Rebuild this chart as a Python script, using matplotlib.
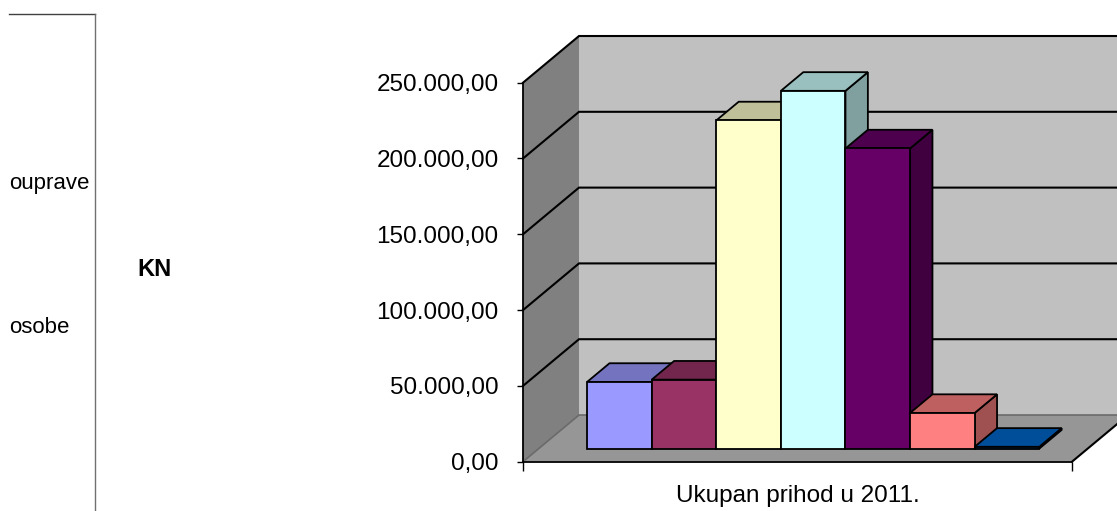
import matplotlib
matplotlib.use("Agg")
import matplotlib.pyplot as plt
from matplotlib.patches import Polygon
from matplotlib.lines import Line2D
from matplotlib.ticker import FuncFormatter, FixedLocator
from matplotlib.colors import to_rgb

# ============================================================================
# PODACI
# ============================================================================

kategorija = 'Ukupan prihod u 2011.'
vrijednosti = [44000, 45500, 216500, 236000, 198000, 23500, 1200]
boje = ['#9999FF', '#993366', '#FFFFCC', '#CCFFFF', '#660066', '#FF8080', '#0066CC']
y_ticks = [0, 50000, 100000, 150000, 200000, 250000]

# ============================================================================
# POSTAVKE 3D IZGLEDA (kosa projekcija)
# ============================================================================

W_PX, H_PX = 1117, 511
Y_MAX = 250000
DX = 0.102          # dubina zida u x jedinicama
DY = 30800          # dubina zida u y jedinicama
F_PRED = 0.28       # udio dubine do prednje strane stupaca
G_DUB = 0.40        # dubina stupca kao udio ukupne dubine
GAP = 1.5           # razmak (150 %)

plt.rcParams['font.family'] = ['Liberation Sans', 'DejaVu Sans']


def potamni(boja, k):
    r, g, b = to_rgb(boja)
    return (r * k, g * k, b * k)


def poly(ax, tocke, boja, ec='none', lw=0.0, z=1):
    ax.add_patch(Polygon(tocke, closed=True, facecolor=boja, edgecolor=ec,
                         linewidth=lw, zorder=z, clip_on=False, joinstyle='miter'))


def crtaj_okvir(ax):
    """Zidovi, pod i linije mreze"""
    poly(ax, [(0, 0), (0, Y_MAX), (DX, Y_MAX + DY), (DX, DY)], '#808080', z=1)
    poly(ax, [(DX, DY), (1 + DX, DY), (1 + DX, Y_MAX + DY), (DX, Y_MAX + DY)], '#C0C0C0', z=1)
    poly(ax, [(0, 0), (1, 0), (1 + DX, DY), (DX, DY)], '#969696', z=1)

    for v in y_ticks[1:]:
        ax.plot([0, DX, 1 + DX], [v, v + DY, v + DY], color='black', lw=1.5,
                zorder=2, clip_on=False, solid_joinstyle='miter')
    ax.plot([0, DX, 1 + DX], [0, DY, DY], color='#6a6a6a', lw=1.2, zorder=2, clip_on=False)
    ax.plot([1, 1 + DX], [0, DY], color='black', lw=1.5, zorder=2, clip_on=False)


def crtaj_stupce(ax):
    """Stupci jedne kategorije, slijeva nadesno"""
    n = len(vrijednosti)
    w = 1.0 / (n + GAP)
    lijevo = GAP / 2 * w
    ox, oy = F_PRED * DX, F_PRED * DY
    dx, dy = G_DUB * DX, G_DUB * DY
    for i, (v, c) in enumerate(zip(vrijednosti, boje)):
        x0 = lijevo + i * w + ox
        y0 = oy
        z = 3 + i * 0.1
        bok = [(x0 + w, y0), (x0 + w + dx, y0 + dy), (x0 + w + dx, y0 + v + dy), (x0 + w, y0 + v)]
        vrh = [(x0, y0 + v), (x0 + w, y0 + v), (x0 + w + dx, y0 + v + dy), (x0 + dx, y0 + v + dy)]
        lice = [(x0, y0), (x0 + w, y0), (x0 + w, y0 + v), (x0, y0 + v)]
        poly(ax, bok, potamni(c, 0.625), ec='black', lw=1.3, z=z)
        poly(ax, vrh, potamni(c, 0.75), ec='black', lw=1.3, z=z + 0.01)
        poly(ax, lice, c, ec='black', lw=1.3, z=z + 0.02)


def format_kn(v, pos):
    s = f"{v:,.2f}"
    return s.replace(",", "X").replace(".", ",").replace("X", ".")


def main():
    fig = plt.figure(figsize=(W_PX / 100, H_PX / 100), dpi=100)
    ax = fig.add_axes([523 / W_PX, (H_PX - 461.7) / H_PX,
                       (1072 - 523) / W_PX, (461.7 - 82.7) / H_PX])
    ax.set_xlim(0, 1)
    ax.set_ylim(0, Y_MAX)
    ax.patch.set_visible(False)

    crtaj_okvir(ax)
    crtaj_stupce(ax)

    for s in ['top', 'right']:
        ax.spines[s].set_visible(False)
    for s in ['left', 'bottom']:
        ax.spines[s].set_color('black')
        ax.spines[s].set_linewidth(1.3)
        ax.spines[s].set_zorder(10)

    ax.yaxis.set_major_locator(FixedLocator(y_ticks))
    ax.yaxis.set_major_formatter(FuncFormatter(format_kn))
    ax.tick_params(axis='y', direction='out', length=4.5, width=1.0, pad=13,
                   labelsize=17.5, colors='black')

    ax.set_xticks([0.5])
    ax.set_xticklabels([kategorija])
    ax.set_xticks([0, 1], minor=True)
    ax.tick_params(axis='x', which='major', length=0, pad=17, labelsize=17.5)
    ax.tick_params(axis='x', which='minor', direction='out', length=6.5, width=1.0)

    # ostaci legende s lijeve strane
    fig.add_artist(Line2D([9 / W_PX, 95 / W_PX], [1 - 14 / H_PX, 1 - 14 / H_PX],
                          color='#404040', lw=1.0))
    fig.add_artist(Line2D([95 / W_PX, 95 / W_PX], [1 - 14 / H_PX, 0],
                          color='#707070', lw=1.0))
    fig.text(9 / W_PX, (H_PX - 189) / H_PX, 'ouprave', fontsize=16, ha='left', va='baseline')
    fig.text(9 / W_PX, (H_PX - 333) / H_PX, 'osobe', fontsize=16, ha='left', va='baseline')
    fig.text(137 / W_PX, (H_PX - 276) / H_PX, 'KN', fontsize=17, fontweight='bold',
             ha='left', va='baseline')

    fig.savefig('out.png', dpi=100)
    plt.close(fig)


if __name__ == "__main__":
    main()
